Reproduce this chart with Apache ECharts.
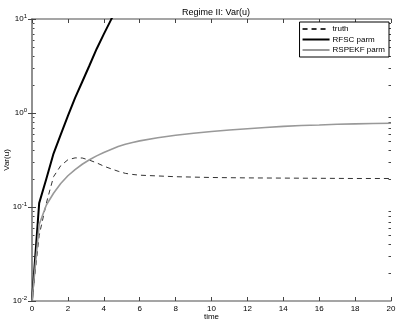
<!DOCTYPE html>
<html>
<head>
<meta charset="utf-8">
<script src="https://cdn.jsdelivr.net/npm/echarts@6/dist/echarts.min.js"></script>
<style>
html,body{margin:0;padding:0;background:#fff;}
#chart{width:399px;height:324px;}
</style>
</head>
<body>
<div id="chart"></div>
<script>
// values
var seriesNames = ['truth', 'RFSC parm', 'RSPEKF parm'];
var xTicks = [0, 2, 4, 6, 8, 10, 12, 14, 16, 18, 20];
var yTicks = [0.01, 0.1, 1, 10];

var truthTime = [0, 0.4, 0.8, 1.2, 1.6, 2.0, 2.4, 2.8, 3.2, 3.6, 4.0, 4.4, 4.8, 5.2, 5.6, 6, 7, 8, 9, 10, 12, 14, 16, 18, 20];
var truthVals = [0.01, 0.05, 0.11, 0.21, 0.275, 0.318, 0.333, 0.332, 0.315, 0.295, 0.272, 0.255, 0.24, 0.228, 0.222, 0.218, 0.214, 0.21, 0.208, 0.206, 0.204, 0.203, 0.202, 0.201, 0.201];

var rfscTime = [0, 0.4, 0.8, 1.2, 1.6, 2.0, 2.4, 2.8, 3.2, 3.6, 4.0, 4.4, 4.8];
var rfscVals = [0.01, 0.11, 0.2, 0.37, 0.59, 0.93, 1.45, 2.15, 3.2, 4.8, 6.9, 9.8, 13.8];

var ekfTime = [0, 0.4, 0.8, 1.2, 1.6, 2.0, 2.4, 2.8, 3.2, 3.6, 4.0, 4.4, 4.8, 5.2, 5.6, 6, 7, 8, 9, 10, 11, 12, 13, 14, 15, 16, 17, 18, 19, 20];
var ekfVals = [0.01, 0.065, 0.105, 0.14, 0.178, 0.215, 0.25, 0.285, 0.318, 0.35, 0.38, 0.41, 0.44, 0.465, 0.485, 0.505, 0.545, 0.58, 0.61, 0.635, 0.66, 0.68, 0.70, 0.72, 0.735, 0.745, 0.758, 0.767, 0.772, 0.777];

function pairs(t, v) {
    return t.map(function (x, i) { return [x, v[i]]; });
}

var myChart = echarts.init(document.getElementById('chart'));
var font = 'Liberation Sans, Arial, sans-serif';
var axisGray = '#888888';

var option = {
    backgroundColor: '#ffffff',
    animation: false,
    title: {
        text: 'Regime II: Var(u)',
        left: 211, top: 3, textAlign: 'center',
        textStyle: {fontFamily: font, fontSize: 9, fontWeight: 'normal', color: '#000'}
    },
    grid: {left: 32, right: 8, top: 19, bottom: 23, containLabel: false, outerBoundsMode: 'none'},
    legend: {
        right: 10, top: 22,
        orient: 'vertical',
        data: seriesNames,
        itemWidth: 27, itemHeight: 8, itemGap: 2.5,
        padding: [3, 4, 3, 2],
        borderColor: '#000', borderWidth: 1,
        backgroundColor: '#fff',
        itemStyle: {opacity: 0},
        textStyle: {fontFamily: font, fontSize: 8, color: '#000', padding: [0, 0, 0, -2]}
    },
    xAxis: [{
        type: 'value', min: 0, max: 20, interval: 2,
        name: 'time', nameLocation: 'middle', nameGap: 12, nameMoveOverlap: false,
        nameTextStyle: {fontFamily: font, fontSize: 8, color: '#000'},
        axisLine: {lineStyle: {color: axisGray, width: 1.5}},
        axisTick: {inside: true, length: 4, lineStyle: {color: '#444'}},
        axisLabel: {fontFamily: font, fontSize: 8, color: '#000', margin: 4},
        splitLine: {show: false}
    }, {
        type: 'value', min: 0, max: 20, interval: 2, position: 'top',
        axisLine: {lineStyle: {color: axisGray, width: 1.5}},
        axisTick: {inside: true, length: 4, lineStyle: {color: '#444'}},
        axisLabel: {show: false},
        splitLine: {show: false}
    }],
    yAxis: [{
        type: 'log', logBase: 10, min: 0.01, max: 10,
        name: 'Var(u)', nameLocation: 'middle', nameGap: 21, nameMoveOverlap: false,
        nameTextStyle: {fontFamily: font, fontSize: 8, color: '#000'},
        axisLine: {show: true, lineStyle: {color: axisGray, width: 1.5}},
        axisTick: {inside: true, length: 4, lineStyle: {color: '#444'}},
        axisLabel: {
            margin: 5, align: 'right',
            formatter: function (v) {
                var e = Math.round(Math.log10(v));
                return '{b|10}{s|' + e + '}';
            },
            rich: {
                b: {fontFamily: font, fontSize: 8, color: '#000'},
                s: {fontFamily: font, fontSize: 6, color: '#000', padding: [0, 0, 6, 0]}
            }
        },
        splitLine: {show: false}
    }, {
        type: 'log', logBase: 10, min: 0.01, max: 10, position: 'right',
        axisLine: {show: true, lineStyle: {color: axisGray, width: 1.5}},
        axisTick: {inside: true, length: 4, lineStyle: {color: '#444'}},
        axisLabel: {show: false},
        splitLine: {show: false}
    }],
    series: [{
        name: seriesNames[0], type: 'line', symbol: 'none',
        data: pairs(truthTime, truthVals),
        lineStyle: {color: '#333', width: 1, type: [5, 4]},
        itemStyle: {color: '#333'}
    }, {
        name: seriesNames[1], type: 'line', symbol: 'none',
        data: pairs(rfscTime, rfscVals),
        lineStyle: {color: '#000', width: 2},
        itemStyle: {color: '#000'}
    }, {
        name: seriesNames[2], type: 'line', symbol: 'none',
        data: pairs(ekfTime, ekfVals),
        lineStyle: {color: '#999', width: 1.6},
        itemStyle: {color: '#999'}
    }]
};
myChart.setOption(option);

// log minor ticks on left and right edges
var xl = myChart.convertToPixel({xAxisIndex: 0}, 0);
var xr = myChart.convertToPixel({xAxisIndex: 0}, 20);
var minor = [];
[0.01, 0.1, 1].forEach(function (d) {
    for (var k = 2; k <= 9; k++) {
        var py = Math.round(myChart.convertToPixel({yAxisIndex: 0}, k * d)) + 0.5;
        minor.push({type: 'line', shape: {x1: xl, y1: py, x2: xl + 2.5, y2: py}, style: {stroke: '#444', lineWidth: 1}});
        minor.push({type: 'line', shape: {x1: xr - 2.5, y1: py, x2: xr, y2: py}, style: {stroke: '#444', lineWidth: 1}});
    }
});
myChart.setOption({graphic: minor});
</script>
</body>
</html>
